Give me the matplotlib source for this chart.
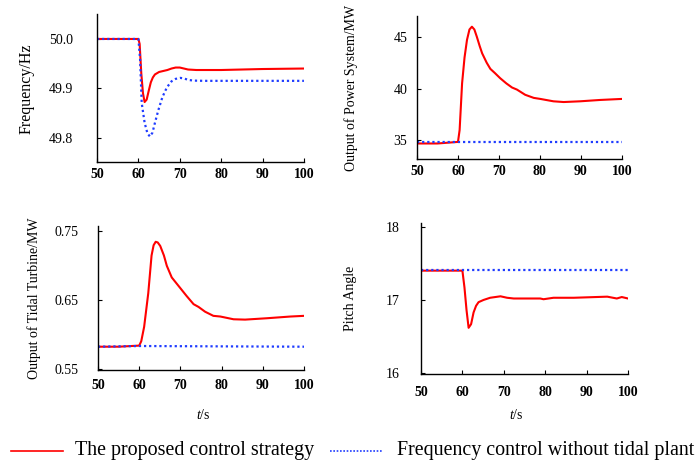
import numpy as np
import matplotlib
matplotlib.use('Agg')
import matplotlib.pyplot as plt

plt.rcParams['font.family'] = ['Liberation Serif', 'DejaVu Serif']
plt.rcParams['mathtext.fontset'] = 'custom'
plt.rcParams['mathtext.it'] = 'Liberation Serif:italic'
plt.rcParams['mathtext.rm'] = 'Liberation Serif'

# ____________________________________________________________
# data

# frequency
t_f_red = [50, 60, 60.3, 60.7, 61.1, 61.5, 62, 62.5, 63, 63.5, 64, 65, 66, 67, 68, 69, 70, 71, 72, 74, 80, 85, 90, 100]
f_red = [50.0, 50.0, 49.99, 49.93, 49.89, 49.872, 49.877, 49.895, 49.912, 49.922, 49.928, 49.933, 49.935, 49.937, 49.94, 49.942, 49.942, 49.94, 49.938, 49.937, 49.937, 49.938, 49.939, 49.940]
t_f_blue = [50, 60, 60.4, 60.8, 61.5, 62.2, 62.8, 63.4, 64, 64.8, 65.8, 66.9, 68, 69, 70.1, 71, 72, 73.3, 76, 80, 100]
f_blue = [50.0, 50.0, 49.96, 49.87, 49.83, 49.808, 49.802, 49.81, 49.83, 49.855, 49.882, 49.902, 49.914, 49.919, 49.921, 49.92, 49.917, 49.9155, 49.915, 49.915, 49.915]

# output of power system
t_p_red = [50, 55, 60, 60.4, 61, 61.6, 62.2, 62.8, 63.4, 64, 64.6, 65.3, 65.9, 67, 67.9, 69, 70.3, 71.8, 73.2, 74.4, 76.4, 78.5, 80.1, 83.3, 85.8, 89.8, 94.7, 100]
p_red = [34.7, 34.7, 34.85, 36.0, 40.5, 43.0, 44.7, 45.7, 45.97, 45.7, 45.0, 44.1, 43.4, 42.5, 41.9, 41.5, 41.0, 40.5, 40.1, 39.9, 39.4, 39.1, 39.0, 38.77, 38.7, 38.77, 38.9, 39.0]
t_p_blue = [50, 100]
p_blue = [34.8, 34.8]

# output of tidal turbine
t_w_red = [50, 55, 60, 60.5, 61.2, 62.2, 63, 63.5, 64, 64.5, 65.1, 66, 66.7, 67.9, 69.9, 71.5, 73.2, 74.4, 76, 78, 79.7, 82.9, 85.7, 91, 96.7, 100]
w_red = [0.582, 0.582, 0.5836, 0.59, 0.611, 0.66, 0.715, 0.73, 0.735, 0.734, 0.729, 0.715, 0.70, 0.683, 0.668, 0.656, 0.644, 0.64, 0.633, 0.627, 0.626, 0.622, 0.6215, 0.6235, 0.626, 0.627]
t_w_blue = [50, 60, 100]
w_blue = [0.582, 0.583, 0.582]

# pitch angle
t_b_red = [50, 60, 60.5, 61, 61.5, 62.1, 62.7, 63.3, 63.9, 65.1, 66.7, 69.2, 70.8, 72.4, 78.8, 79.6, 82, 86.9, 95, 97.3, 98.5, 100]
b_red = [17.4, 17.4, 17.17, 16.86, 16.62, 16.67, 16.83, 16.92, 16.97, 17.0, 17.03, 17.05, 17.03, 17.02, 17.02, 17.01, 17.03, 17.03, 17.045, 17.02, 17.04, 17.02]
t_b_blue = [50, 100]
b_blue = [17.41, 17.41]

red = '#ff0000'
blue = '#1f3cff'

# ____________________________________________________________
# plot

fig = plt.figure(figsize=(6.99, 4.62), dpi=100)

# rect, red x/y, blue x/y, ylim, yticks, ylabel, label x, label size, ytick pad, xtick pad
panels = [
    ([0.1388, 0.649, 0.296, 0.320], t_f_red, f_red, t_f_blue, f_blue, (49.75, 50.05), [49.8, 49.9, 50.0], ['49.8', '49.9', '50.0'], 'Frequency/Hz', -0.30, 11.5, 17, 4.3),
    ([0.5966, 0.6558, 0.293, 0.3095], t_p_red, p_red, t_p_blue, p_blue, (33.2, 47.0), [35, 40, 45], ['35', '40', '45'], 'Output of Power System/MW', -0.288, 10, 7, 4.3),
    ([0.1402, 0.1991, 0.2947, 0.3117], t_w_red, w_red, t_w_blue, w_blue, (0.548, 0.758), [0.55, 0.65, 0.75], ['0.55', '0.65', '0.75'], 'Output of Tidal Turbine/MW', -0.275, 10, 14, 6.5),
    ([0.6023, 0.1905, 0.2961, 0.3268], t_b_red, b_red, t_b_blue, b_blue, (15.99, 18.05), [16, 17, 18], ['16', '17', '18'], 'Pitch Angle', -0.309, 10, 15.5, 8.5),
]

for rect, tr, yr, tb, yb, ylim, yt, ytl, ylab, lx, lfs, ypad, xpad in panels:
    ax = fig.add_axes(rect)
    ax.plot(tr, yr, color=red, lw=1.5)
    ax.plot(tb, yb, color=blue, lw=1.6, linestyle=(0, (1, 1.3)))
    ax.set_xlim(50, 100)
    ax.set_ylim(*ylim)
    ax.set_xticks([50, 60, 70, 80, 90, 100])
    ax.set_xticklabels(['50', '60', '70', '80', '90', '100'], fontweight='bold', fontsize=10)
    ax.set_yticks(yt)
    ax.set_yticklabels(ytl, fontsize=10)
    ax.tick_params(direction='in', length=3, width=0.8)
    ax.tick_params(axis='y', pad=ypad)
    ax.tick_params(axis='x', pad=xpad)
    ax.spines['top'].set_visible(False)
    ax.spines['right'].set_visible(False)
    ax.spines['left'].set_linewidth(1.0)
    ax.spines['bottom'].set_linewidth(1.0)
    ax.set_ylabel(ylab, fontsize=lfs)
    ax.yaxis.set_label_coords(lx, 0.5)

fig.text(203 / 699, 1 - 415 / 462, r'$t$/s', fontsize=10, ha='center', va='center')
fig.text(516 / 699, 1 - 415 / 462, r'$t$/s', fontsize=10, ha='center', va='center')

# legend drawn as figure lines
ly = 1 - 451 / 462
fig.add_artist(plt.Line2D([11 / 699, 63 / 699], [ly, ly], color=red, lw=1.2, transform=fig.transFigure))
fig.text(75 / 699, ly, 'The proposed control strategy', fontsize=14.4, va='center', ha='left')
fig.add_artist(plt.Line2D([330 / 699, 383 / 699], [ly, ly], color=blue, lw=1.2, linestyle=(0, (1, 1)), transform=fig.transFigure))
fig.text(397 / 699, ly, 'Frequency control without tidal plant', fontsize=14.4, va='center', ha='left')

fig.savefig('out.png', dpi=100)
